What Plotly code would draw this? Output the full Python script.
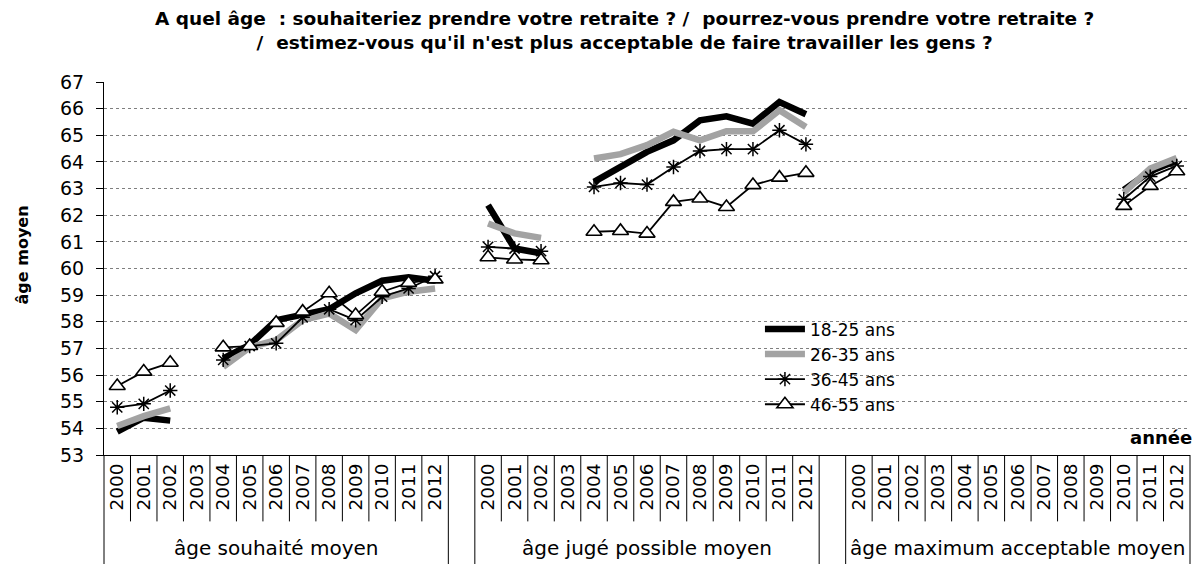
import plotly.graph_objects as go

years = [str(y) for y in range(2000, 2013)]
groups = ["âge souhaité moyen", "âge jugé possible moyen", "âge maximum acceptable moyen"]
series_names = ["18-25 ans", "26-35 ans", "36-45 ans", "46-55 ans"]

N = None
# values per group (2000..2012)
s18_g1 = [53.88, 54.40, 54.29, N, 56.63, 57.13, 58.06, 58.25, 58.47, 59.07, 59.54, 59.67, 59.54]
s18_g2 = [62.38, 60.75, 60.57, N, 63.25, 63.81, 64.38, 64.81, 65.56, 65.71, 65.44, 66.25, 65.79]
s18_g3 = [N, N, N, N, N, N, N, N, N, N, 62.95, 63.65, 64.05]

s26_g1 = [54.09, 54.46, 54.75, N, 56.31, 57.04, 57.31, 58.06, 58.31, 57.69, 58.88, 59.13, 59.25]
s26_g2 = [61.69, 61.32, 61.15, N, 64.13, 64.29, 64.63, 65.13, 64.81, 65.15, 65.15, 65.94, 65.31]
s26_g3 = [N, N, N, N, N, N, N, N, N, N, 62.85, 63.75, 64.15]

s36_g1 = [54.79, 54.92, 55.42, N, 56.57, 57.09, 57.19, 58.17, 58.47, 58.06, 58.94, 59.25, 59.71]
s36_g2 = [60.81, 60.75, 60.65, N, 63.06, 63.21, 63.15, 63.81, 64.41, 64.48, 64.48, 65.19, 64.66]
s36_g3 = [N, N, N, N, N, N, N, N, N, N, 62.60, 63.45, 63.85]

s46_g1 = [55.59, 56.13, 56.46, N, 57.04, 57.09, 57.96, 58.38, 59.07, 58.25, 59.13, 59.46, 59.59]
s46_g2 = [60.42, 60.34, 60.31, N, 61.38, 61.41, 61.31, 62.50, 62.63, 62.31, 63.13, 63.41, 63.59]
s46_g3 = [N, N, N, N, N, N, N, N, N, N, 62.35, 63.10, 63.65]

series_values = [
    [s18_g1, s18_g2, s18_g3],
    [s26_g1, s26_g2, s26_g3],
    [s36_g1, s36_g2, s36_g3],
    [s46_g1, s46_g2, s46_g3],
]

# category layout: each group of 13 years, separated by one blank category
ny = len(years)
step = ny + 1
n_cat = len(groups) * ny + (len(groups) - 1)
tickvals, ticktext = [], []
for g in range(len(groups)):
    for k, y in enumerate(years):
        tickvals.append(g * step + k)
        ticktext.append(y)

def flatten(groups_vals):
    xs, ys = [], []
    for g, vals in enumerate(groups_vals):
        for k, v in enumerate(vals):
            xs.append(g * step + k)
            ys.append(v)
        if g < len(groups_vals) - 1:
            xs.append(g * step + ny)
            ys.append(None)
    return xs, ys

styles = [
    dict(line=dict(color="black", width=6.5), mode="lines"),
    dict(line=dict(color="#a3a3a3", width=6.5), mode="lines"),
    dict(line=dict(color="black", width=1.8), mode="lines+markers",
         marker=dict(symbol="asterisk-open", size=12, color="black", line=dict(color="black", width=1.5))),
    dict(line=dict(color="black", width=1.8), mode="lines+markers",
         marker=dict(symbol="triangle-up", size=14, color="white", line=dict(color="black", width=1.6))),
]

fig = go.Figure()
for name, vals, st in zip(series_names, series_values, styles):
    xs, ys = flatten(vals)
    fig.add_trace(go.Scatter(x=xs, y=ys, name=name, connectgaps=False, **st))

FONT = "DejaVu Sans, Liberation Sans, Arial, sans-serif"

shapes = []
# white box behind legend
shapes.append(dict(type="rect", xref="paper", yref="paper", x0=0.579, x1=0.786, y0=0.10, y1=0.367,
                   fillcolor="white", line=dict(width=0), layer="between"))
# category separators under axis
for b in range(n_cat + 1):
    is_group = (b % step == 0) or (b % step == ny)
    shapes.append(dict(type="line", xref="paper", yref="paper", x0=b / n_cat, x1=b / n_cat,
                       y0=0, y1=-0.30 if is_group else -0.178,
                       line=dict(color="black", width=1)))

annotations = [
    dict(text="A quel âge  : souhaiteriez prendre votre retraite ? /  pourrez-vous prendre votre retraite ?<br>/  estimez-vous qu'il n'est plus acceptable de faire travailler les gens ?",
         xref="paper", yref="paper", x=0.479, y=1.138, xanchor="center", yanchor="middle",
         showarrow=False, font=dict(family=FONT, size=18.5, color="black", weight="bold")),
    dict(text="âge moyen", xref="paper", yref="paper", x=-0.0755, y=0.535, textangle=-90,
         xanchor="center", yanchor="middle", showarrow=False,
         font=dict(family=FONT, size=16, color="black", weight="bold")),
    dict(text="année", xref="paper", yref="paper", x=1.004, y=0.046, xanchor="right", yanchor="middle",
         showarrow=False, font=dict(family=FONT, size=18, color="black", weight="bold")),
]
for g, name in enumerate(groups):
    center = g * step + (ny - 1) / 2
    annotations.append(dict(text=name, xref="paper", yref="paper", x=(center + 0.5) / n_cat, y=-0.249,
                            xanchor="center", yanchor="middle", showarrow=False,
                            font=dict(family=FONT, size=20, color="black")))

fig.update_layout(
    width=1194, height=556,
    margin=dict(l=96, r=12, t=74, b=109),
    paper_bgcolor="white", plot_bgcolor="white",
    font=dict(family=FONT, color="black"),
    showlegend=True,
    legend=dict(x=0.604, y=0.385, xanchor="left", yanchor="top", bgcolor="rgba(0,0,0,0)",
                font=dict(family=FONT, size=17, color="black"), tracegroupgap=0,
                itemwidth=40),
    xaxis=dict(range=[-0.5, n_cat - 0.5], tickmode="array", tickvals=tickvals, ticktext=ticktext,
               tickangle=-90, ticks="", showgrid=False, zeroline=False, showline=True,
               linecolor="black", linewidth=1, tickfont=dict(family=FONT, size=18.5, color="black"),
               fixedrange=True),
    yaxis=dict(range=[53, 67], dtick=1, tick0=53, showgrid=True, gridcolor="#7f7f7f", griddash="dot",
               gridwidth=1, ticks="outside", ticklen=7, tickcolor="black", showline=True,
               linecolor="black", linewidth=1, zeroline=False, ticklabelstandoff=8,
               tickfont=dict(family=FONT, size=19, color="black")),
    shapes=shapes,
    annotations=annotations,
)

fig.write_html("out.html")
